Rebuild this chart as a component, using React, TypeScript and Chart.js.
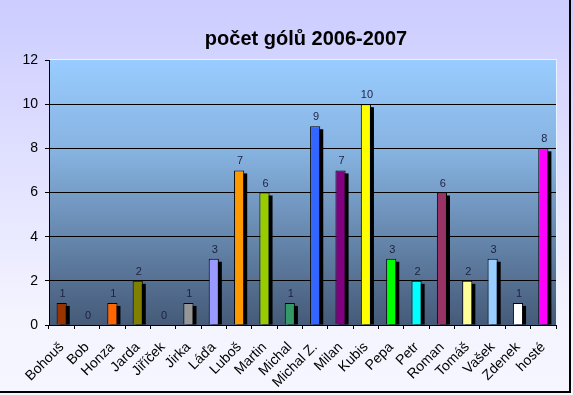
import React, { useEffect, useRef } from "react";
import { Chart, registerables } from "chart.js";

Chart.register(...registerables);

const chartTitle = "počet gólů 2006-2007";
const players = [
  "Bohouš", "Bob", "Honza", "Jarda", "Jiříček", "Jirka", "Láďa", "Luboš", "Martin", "Michal",
  "Michal Z.", "Milan", "Kubis", "Pepa", "Petr", "Roman", "Tomáš", "Vašek", "Zdenek", "hosté",
];
const goals = [1, 0, 1, 2, 0, 1, 3, 7, 6, 1, 9, 7, 10, 3, 2, 6, 2, 3, 1, 8];
const barColors = [
  "#993300", "#808080", "#ff6600", "#808000", "#808080", "#969696", "#9999ff", "#ff9900", "#99cc00", "#339966",
  "#3366ff", "#800080", "#ffff00", "#00ff00", "#00ffff", "#993366", "#ffff99", "#99ccff", "#ffffff", "#ff00ff",
];
const yMax = 12;
const yStep = 2;

const FONT = "Arial, 'Liberation Sans', sans-serif";

export default function App() {
  const ref = useRef<HTMLCanvasElement>(null);

  useEffect(() => {
    document.body.style.margin = "0";
    const canvas = ref.current!;

    const bgPlugin = {
      id: "bgPlugin",
      beforeDraw(chart: any) {
        const c = chart.ctx;
        const { width, height, chartArea: a } = chart;
        c.save();
        const g = c.createLinearGradient(0, 0, 0, height);
        g.addColorStop(0, "#ccccff");
        g.addColorStop(0.8, "#f4f4ff");
        g.addColorStop(1, "#f6f6ff");
        c.fillStyle = g;
        c.fillRect(0, 0, width, height);

        const pg = c.createLinearGradient(0, a.top, 0, a.bottom);
        pg.addColorStop(0, "#99ccff");
        pg.addColorStop(0.35, "#86b2e0");
        pg.addColorStop(1, "#455a78");
        c.fillStyle = pg;
        c.fillRect(a.left, a.top, a.right - a.left, a.bottom - a.top);

        c.fillStyle = "#e8f4ff";
        c.fillRect(a.left, a.top - 1, a.right - a.left + 1, 1);
        c.fillRect(a.right, a.top - 1, 1, a.bottom - a.top + 1);

        c.fillStyle = "#000";
        c.fillRect(569, 0, 2, 393);
        c.fillRect(0, 391, 571, 2);

        c.fillStyle = "#000";
        c.font = `bold 20px ${FONT}`;
        c.textAlign = "center";
        c.textBaseline = "middle";
        c.fillText(chartTitle, 306, 39);
        c.restore();
      },
      beforeDatasetsDraw(chart: any) {
        const c = chart.ctx;
        const a = chart.chartArea;
        const meta = chart.getDatasetMeta(0);
        c.save();
        c.beginPath();
        c.rect(a.left, a.top, a.right - a.left, a.bottom - a.top);
        c.clip();
        c.fillStyle = "#000";
        meta.data.forEach((el: any, i: number) => {
          if (!goals[i]) return;
          const { x, y, width, base } = el.getProps(["x", "y", "width", "base"], true);
          c.fillRect(x - width / 2 + 3, y + 3, width, base - y - 3);
        });
        c.restore();
      },
      afterDatasetsDraw(chart: any) {
        const c = chart.ctx;
        const meta = chart.getDatasetMeta(0);
        c.save();
        c.fillStyle = "#1c2244";
        c.font = `11px ${FONT}`;
        c.textAlign = "center";
        c.textBaseline = "alphabetic";
        meta.data.forEach((el: any, i: number) => {
          const { x, y } = el.getProps(["x", "y"], true);
          c.fillText(String(goals[i]), x + 1, y - 6);
        });
        c.restore();
      },
    };

    const chart = new Chart(canvas, {
      type: "bar",
      data: {
        labels: players,
        datasets: [
          {
            data: goals,
            backgroundColor: barColors,
            borderColor: "#000",
            borderWidth: 1,
            barPercentage: 0.4,
            categoryPercentage: 1,
          },
        ],
      },
      options: {
        animation: false,
        responsive: false,
        maintainAspectRatio: false,
        devicePixelRatio: 1,
        layout: { padding: { top: 60, right: 17, left: 0, bottom: 0 } },
        plugins: {
          legend: { display: false },
          title: { display: false },
          tooltip: { enabled: false },
        },
        scales: {
          x: {
            afterFit(scale: any) {
              scale.height = 70;
            },
            grid: {
              display: true,
              drawOnChartArea: false,
              drawTicks: true,
              tickLength: 4,
              color: "#000",
              offset: true,
            },
            border: { color: "#000", width: 1 },
            ticks: {
              color: "#000",
              font: { family: FONT, size: 14 },
              minRotation: 45,
              maxRotation: 45,
              autoSkip: false,
              padding: 10,
            },
          },
          y: {
            min: 0,
            max: yMax,
            afterFit(scale: any) {
              scale.width = 49;
            },
            grid: {
              color: (ctx: any) => (ctx.tick && ctx.tick.value === yMax ? "rgba(0,0,0,0)" : "#000"),
              tickColor: "#000",
              tickLength: 4,
            },
            border: { color: "#000", width: 1 },
            ticks: {
              stepSize: yStep,
              color: "#000",
              font: { family: FONT, size: 14 },
              padding: 7,
            },
          },
        },
      },
      plugins: [bgPlugin],
    });

    return () => chart.destroy();
  }, []);

  return (
    <div style={{ width: 573, height: 395, position: "relative" }}>
      <canvas ref={ref} width={573} height={395} style={{ display: "block" }} />
    </div>
  );
}
